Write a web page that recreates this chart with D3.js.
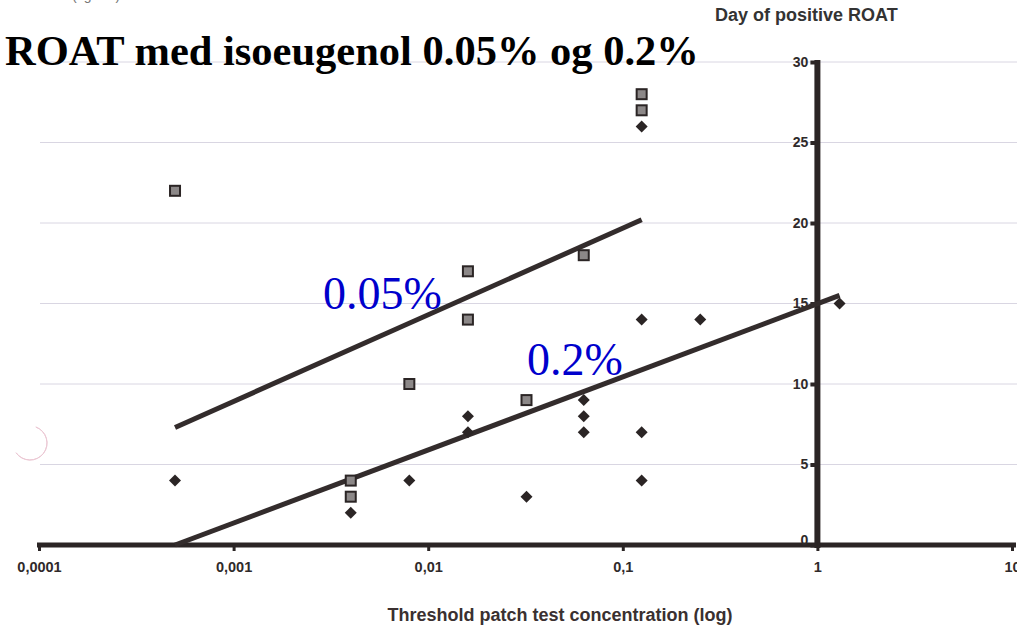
<!DOCTYPE html>
<html>
<head>
<meta charset="utf-8">
<script src="https://cdn.jsdelivr.net/npm/d3@7"></script>
<style>
  body { margin: 0; background: #fff; }
  svg { display: block; }
</style>
</head>
<body>
<div id="graph1"></div>
<script>

let width = 1017,
    height = 627;

// threshold concentration (%) / day of positive ROAT
const conc005 = [0.0005, 0.004, 0.004, 0.008, 0.016, 0.016, 0.032, 0.063, 0.125, 0.125];
const days005 = [22, 4, 3, 10, 17, 14, 9, 18, 28, 27];

const conc02 = [0.0005, 0.004, 0.008, 0.016, 0.016, 0.032, 0.063, 0.063, 0.063, 0.125, 0.125, 0.125, 0.125, 0.25, 1.3];
const days02 = [4, 2, 4, 8, 7, 3, 9, 8, 7, 26, 14, 7, 4, 14, 15];

// trend lines, end points
const fit005 = [[0.0005, 7.3], [0.125, 20.2]];
const fit02 = [[0.0005, 0], [1.3, 15.5]];

const xTicks = [0.0001, 0.001, 0.01, 0.1, 1, 10];
const yTicks = [0, 5, 10, 15, 20, 25, 30];

let svg = d3.select("#graph1")
    .append("svg")
    .attr("width", width)
    .attr("height", height);

let x = d3.scaleLog()
    .domain([0.0001, 10])
    .range([39, 1012]);

let y = d3.scaleLinear()
    .domain([0, 30])
    .range([545, 62]);

// gridlines
svg.append("g")
    .selectAll("line")
    .data(yTicks.filter(d => d > 0))
    .enter()
    .append("line")
    .attr("x1", 40)
    .attr("x2", width)
    .attr("y1", d => y(d))
    .attr("y2", d => y(d))
    .attr("stroke", "#d9d6e2")
    .attr("stroke-width", 1);

// faint scan mark
svg.append("path")
    .attr("d", d3.arc()({ innerRadius: 17, outerRadius: 17, startAngle: 0.35, endAngle: 4.1 }))
    .attr("transform", "translate(30,443)")
    .attr("fill", "none")
    .attr("stroke", "#ecc8d4")
    .attr("stroke-width", 1);

// x axis
let xAxis = svg.append("g")
    .attr("transform", `translate(0, ${y(0)})`)
    .call(d3.axisBottom(x)
        .tickValues(xTicks)
        .tickFormat(d => String(d).replace(".", ","))
        .tickSize(6)
        .tickSizeOuter(0)
        .tickPadding(11));

xAxis.select(".domain")
    .attr("stroke", "#2b2525")
    .attr("stroke-width", 5)
    .attr("d", `M37,0H1016`);
xAxis.selectAll(".tick line").attr("stroke", "#2b2525").attr("stroke-width", 3);
xAxis.selectAll(".tick text")
    .attr("fill", "#2f2a2a")
    .style("font-family", "Liberation Sans, Arial, sans-serif")
    .style("font-weight", "bold")
    .style("font-size", "14.5px");

// y axis at x = 1
let yAxis = svg.append("g")
    .attr("transform", `translate(${x(1)}, 0)`)
    .call(d3.axisLeft(y)
        .tickValues(yTicks)
        .tickSize(7)
        .tickSizeOuter(0)
        .tickPadding(2));

yAxis.select(".domain")
    .attr("stroke", "#2b2525")
    .attr("stroke-width", 6)
    .attr("d", `M0,${y(30) - 2}V${y(0) + 3}`);
yAxis.selectAll(".tick line").attr("stroke", "#2b2525").attr("stroke-width", 4);
yAxis.selectAll(".tick text")
    .attr("fill", "#2f2a2a")
    .style("font-family", "Liberation Sans, Arial, sans-serif")
    .style("font-weight", "bold")
    .style("font-size", "14px");
yAxis.selectAll(".tick")
    .filter(d => d === 0)
    .select("text")
    .attr("dy", "-0.05em");

// trend lines
let line = d3.line()
    .x(d => x(d[0]))
    .y(d => y(d[1]));

svg.selectAll(".fit")
    .data([fit005, fit02])
    .enter()
    .append("path")
    .attr("class", "fit")
    .attr("d", line)
    .attr("fill", "none")
    .attr("stroke", "#332c2c")
    .attr("stroke-width", 5);

// points 0.2% (diamonds)
svg.append("g")
    .selectAll("path")
    .data(conc02.map((c, i) => [c, days02[i]]))
    .enter()
    .append("path")
    .attr("d", "M0,-6L6,0L0,6L-6,0Z")
    .attr("transform", d => `translate(${x(d[0])}, ${y(d[1])})`)
    .attr("fill", "#2b2525");

// points 0.05% (squares)
svg.append("g")
    .selectAll("rect")
    .data(conc005.map((c, i) => [c, days005[i]]))
    .enter()
    .append("rect")
    .attr("x", d => x(d[0]) - 5)
    .attr("y", d => y(d[1]) - 5)
    .attr("width", 10)
    .attr("height", 10)
    .attr("fill", "#8c8888")
    .attr("stroke", "#2b2525")
    .attr("stroke-width", 2);

// labels for the lines
svg.append("text")
    .attr("x", 323)
    .attr("y", 309)
    .attr("fill", "#0000cc")
    .style("font-family", "Liberation Serif, Times New Roman, serif")
    .style("font-size", "46px")
    .text("0.05%");

svg.append("text")
    .attr("x", 527)
    .attr("y", 375)
    .attr("fill", "#0000cc")
    .style("font-family", "Liberation Serif, Times New Roman, serif")
    .style("font-size", "46px")
    .text("0.2%");

// title
svg.append("text")
    .attr("x", 5)
    .attr("y", 65)
    .attr("fill", "#000")
    .style("font-family", "Liberation Serif, Times New Roman, serif")
    .style("font-weight", "bold")
    .style("font-size", "42.5px")
    .text("ROAT med isoeugenol 0.05% og 0.2%");

// cut-off caption at the very top
svg.append("text")
    .attr("x", 72)
    .attr("y", 0)
    .attr("fill", "#777")
    .style("font-family", "Liberation Sans, Arial, sans-serif")
    .style("font-size", "14px")
    .text("(figur 3)");

// axis titles
svg.append("text")
    .attr("x", 715)
    .attr("y", 21)
    .attr("fill", "#333")
    .style("font-family", "Liberation Sans, Arial, sans-serif")
    .style("font-weight", "bold")
    .style("font-size", "18px")
    .text("Day of positive ROAT");

svg.append("text")
    .attr("x", 560)
    .attr("y", 621)
    .style("text-anchor", "middle")
    .attr("fill", "#3a3030")
    .style("font-family", "Liberation Sans, Arial, sans-serif")
    .style("font-weight", "bold")
    .style("font-size", "18px")
    .text("Threshold patch test concentration (log)");

</script>
</body>
</html>
